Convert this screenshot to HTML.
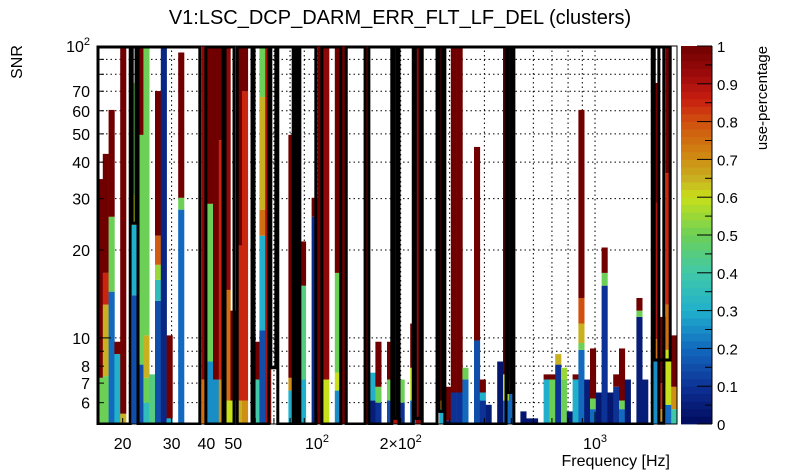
<!DOCTYPE html>
<html><head><meta charset="utf-8"><style>
body{margin:0;background:#fff;}
svg{display:block;font-family:"Liberation Sans",Arial,sans-serif;}
</style></head><body>
<svg id="chart" width="805" height="472" viewBox="0 0 805 472" xmlns="http://www.w3.org/2000/svg">
<rect width="805" height="472" fill="#fff"/>
<text x="400" y="24" font-size="20" text-anchor="middle">V1:LSC_DCP_DARM_ERR_FLT_LF_DEL (clusters)</text>
<text transform="translate(22,62) rotate(-90)" font-size="16" text-anchor="middle">SNR</text>
<text x="670" y="466" font-size="16" text-anchor="end">Frequency [Hz]</text>
<text transform="translate(767,98) rotate(-90)" font-size="15" text-anchor="middle">use-percentage</text>
<g id="grid"></g>
<g id="tiles"></g>
<g id="outlines"></g>
<g id="axes"></g>
<g id="cbar"></g>
</svg>
<script>
// ---- data ----
const fMin = 16.17, fMax = 1972, snrMin = 5.07, snrMax = 100, nBins = 100;
const colBin = [0,1,2,3,4,6,7,8,9,10,11,12,14,18,19,20,21,22,23,24,25,27,28,29,33,34,35,37,38,39,41,42,46,47,48,50,51,52,54,55,59,60,61,62,63,65,66,67,69,70,71,73,74,75,77,78,79,80,81,82,83,84,85,86,87,88,89,90,91,93,94,96,97,98,99];
const colTops = [[7.3,35],[7.4,13,16.7,42.7],[14.4,26,60.4],[8.8,9.7],[5.5,100],[14,24.4,30.9,74.7],[8.1,49.6,100],[6,7.3,10.2,100],[7.5],[13.4,15.8,17.8,22.4,70.1],[100],[5.3,10.2],[27.5,30.2,95],[7.2,100],[8.3,28.8,100],[7.2,100],[7.2,47.6,100],[6.1,14.6,100],[6.1,12.4],[6.1,20.7,100],[6.1,70,100],[7.2,9.7],[10.6,22.4,27.5,66.9,100],[100],[6.6,7.3,49.6],[100],[7.2,15.1,21.4],[26,30.2],[100],[7.2,100],[6.6,7.6,16.7,100],[100],[100],[6.1,7.6],[6,6.8,9.7],[6.1,7.2,9.7],[100],[6,7.2],[6.1,7.9,11.2],[100],[5.7,6.1,100],[5.2,6.8],[6.5,100],[6.5,100],[7.2,7.9],[9.8,45.1],[6.1,6.5,7.2],[5.9],[8.3],[6.1,7.5,100],[7.2,100],[5.6],[5.3],[5.3],[7.2,7.5],[7.2,7.5],[8.1,8.8],[7.2,7.9],[5.6],[7.2,7.5],[9.1,9.6,11.2,13.7,60.4],[7.2],[5.7,6.2,9.2],[6.5],[15.1,16.7,20.4],[6.5],[6.8,7.5],[5.7,6.1,9.2],[7.2],[11.8,12.4,13.7],[7.2],[8.3,9.9,29,74.7],[5.7,7,11.8],[5.9,9.1,13,36.7,100],[5.7,6.8,10.2]];
const colVals = [[0.5,1],[0.5,0.65,0.85,1],[0.2,0.5,1],[0.3,1],[0.65,1],[0.15,0.3,0.6,0.5],[0.15,0.5,1],[0.35,0.5,0.65,0.5],[0.45],[0.15,0.35,0.55,0.78,1],[0.07],[0.3,1],[0.2,0.5,1],[0.75,0.95],[0.25,0.5,1],[0.25,1],[0.7,0.85,1],[0.6,0.75,0.95],[0.6,1],[0.65,0.85,1],[0.7,0.85,1],[0.4,1],[0.15,0.3,0.75,0.65,0.5],[0.9],[0.3,0.7,1],[0.95],[0.3,0.45,1],[0.08,1],[1],[0.6,0.95],[0.25,0.6,0.5,1],[1],[0.95],[0.05,0.3],[0.1,0.5,1],[0.15,0.5,1],[0.9],[0.1,0.5],[0.2,0.6,1],[0.95],[0.3,0.7,1],[0.05,1],[0.1,1],[0.1,1],[0.2,0.5],[0.15,1],[0.1,0.3,1],[0.05],[0.03],[0.2,0.6,1],[0.2,1],[0.03],[0.03],[0.03],[0.3,1],[0.5,1],[0.1,0.65],[0.5,0.55],[0.03],[0.3,1],[0.2,0.5,0.65,0.8,1],[0.05],[0.2,0.5,1],[0.03],[0.1,0.5,1],[0.03],[0.1,1],[0.2,0.5,1],[0.03],[0.05,0.5,1],[0.05],[0.25,0.75,0.9,1],[0.7,0.85,1],[0.2,0.6,0.75,0.85,1],[0.4,0.7,1]];
const boxStart = [0,5.9,6.9,18.6,21.9,24,26.9,29.8,31,34,34.8,38.6,42.8,46.7,51,51.9,54.7,55.9,58.8,59.8,70.7,71.7,95.9,96.7];
const boxEnd   = [5.9,6.9,17.9,21.9,23.8,26.9,29.8,31,34,34.8,37.9,42.2,46.4,51,51.9,54.7,55.9,58.8,59.8,70.7,71.6,95.9,99.0,97.9];
const boxBottom= [5,24.7,5,5,5,5,5,7.9,5,5,5,5,5,5,5.3,5,5.3,5,5.6,5,6.5,5,8.4,5.1];
const xGridVals = [20,30,40,50,60,70,80,90,100,200,300,400,500,600,700,800,900,1000];
const xTickLabels = ["20","30","40","50","","","","","10²","2×10²","","","","","","","","10³"];
const yGridVals = [6,7,8,9,10,20,30,40,50,60,70,80,90,100];
const yTickLabels = ["6","7","8","","10","20","30","40","50","60","70","","","10²"];
const cbarVals = [0,0.1,0.2,0.3,0.4,0.5,0.6,0.7,0.8,0.9,1];
const cbarLabels = ["0","0.1","0.2","0.3","0.4","0.5","0.6","0.7","0.8","0.9","1"];
// ---- layout ----
const X0=97, X1=677, Y0=46, Y1=424;
const NS="http://www.w3.org/2000/svg";
function xF(f){return X0+(X1-X0)*Math.log(f/fMin)/Math.log(fMax/fMin);}
function binF(k){return fMin*Math.pow(fMax/fMin,k/nBins);}
function xB(k){return xF(binF(k));}
function yS(s){s=Math.max(snrMin,Math.min(snrMax,s));return Y1-(Y1-Y0)*Math.log(s/snrMin)/Math.log(snrMax/snrMin);}
const stops=[[0,[0,10,92]],[0.1,[13,50,150]],[0.2,[18,105,190]],[0.3,[32,176,204]],[0.4,[64,200,168]],[0.5,[108,208,87]],[0.6,[200,224,26]],[0.65,[200,176,32]],[0.72,[208,130,16]],[0.8,[208,80,16]],[0.86,[200,30,16]],[0.92,[160,12,12]],[1,[112,0,0]]];
function col(v){for(let i=1;i<stops.length;i++){if(v<=stops[i][0]){const a=stops[i-1],b=stops[i],t=(v-a[0])/(b[0]-a[0]);const c=a[1].map((q,j)=>Math.round(q+(b[1][j]-q)*t));return `rgb(${c})`;}}return 'rgb(112,0,0)';}
function mk(tag,attrs,parent){const e=document.createElementNS(NS,tag);for(const k in attrs)e.setAttribute(k,attrs[k]);parent.appendChild(e);return e;}
const gGrid=document.getElementById('grid'),gT=document.getElementById('tiles'),gO=document.getElementById('outlines'),gA=document.getElementById('axes'),gC=document.getElementById('cbar');
// grid
xGridVals.forEach(f=>{const l=mk('line',{x1:xF(f),x2:xF(f),y1:Y0,y2:Y1,stroke:'#000','stroke-width':1,'stroke-dasharray':'1.5,3'},gGrid);

});
yGridVals.forEach(s=>{const l=mk('line',{x1:X0,x2:X1,y1:yS(s),y2:yS(s),stroke:'#000','stroke-width':1,'stroke-dasharray':'1.5,3'},gGrid);

});
// tiles
colBin.forEach((k,i)=>{let lo=snrMin;colTops[i].forEach((top,j)=>{const ya=yS(top),yb=yS(lo);const r=mk('rect',{x:xB(k),y:ya,width:xB(k+1)-xB(k)+0.3,height:Math.max(0,yb-ya),fill:col(colVals[i][j])},gT);


lo=top;});});
// outlines
boxStart.forEach((s,i)=>{const x=xB(s),w=xB(boxEnd[i])-x,yt=Y0+1,yb=yS(boxBottom[i]);const r=mk('rect',{x:x+1,y:yt,width:Math.max(1,w-2),height:yb-yt,fill:'none',stroke:'#000','stroke-width':3},gO);

});
// frame
const fr=mk('rect',{x:X0,y:Y0,width:X1-X0,height:Y1-Y0,fill:'none',stroke:'#000','stroke-width':1},gA);


const mb=mk('rect',{x:X0-2,y:Y1+1,width:X1-X0+4,height:8,fill:'#fff'},gA);


// y ticks and labels
const yMinor=[6,7,8,9,20,30,40,50,60,70,80,90];
yMinor.forEach(s=>{const l=mk('line',{x1:X0,x2:X0+7,y1:yS(s),y2:yS(s),stroke:'#000'},gA);

});
[10,100].forEach(s=>{const l=mk('line',{x1:X0,x2:X0+14,y1:yS(s),y2:yS(s),stroke:'#000'},gA);

});
yGridVals.forEach((s,i)=>{if(!yTickLabels[i])return;const t=mk('text',{x:90,y:yS(s)+6,'font-size':16,'text-anchor':'end'},gA);


if(yTickLabels[i]==='10²'){t.innerHTML='10<tspan dy="-7" font-size="11">2</tspan>';}else t.textContent=yTickLabels[i];});
// x ticks and labels
xGridVals.forEach((f,i)=>{const big=(f===100||f===1000);const l=mk('line',{x1:xF(f),x2:xF(f),y1:Y1,y2:Y1-(big?12:6),stroke:'#000'},gA);


const lab=xTickLabels[i];if(!lab)return;const t=mk('text',{x:xF(f),y:449,'font-size':16,'text-anchor':'middle'},gA);


if(lab==='10²')t.innerHTML='10<tspan dy="-7" font-size="11">2</tspan>';
else if(lab==='10³')t.innerHTML='10<tspan dy="-7" font-size="11">3</tspan>';
else if(lab==='2×10²')t.innerHTML='2×10<tspan dy="-7" font-size="11">2</tspan>';
else t.textContent=lab;});
// colorbar
const CX0=681,CX1=712,nb=50;
for(let i=0;i<nb;i++){const v=(i+0.5)/nb;const y1=Y1-(Y1-Y0)*(i+1)/nb;const r=mk('rect',{x:CX0,y:y1,width:CX1-CX0,height:(Y1-Y0)/nb+0.4,fill:col(v)},gC);

}
cbarVals.forEach((v,i)=>{const y=Y1-(Y1-Y0)*v;const l=mk('line',{x1:CX1-15,x2:CX1,y1:y,y2:y,stroke:'#000'},gC);


const t=mk('text',{x:CX1+5,y:y+6,'font-size':15},gC);


t.textContent=cbarLabels[i];});
for(let v=0.05;v<1;v+=0.1){const y=Y1-(Y1-Y0)*v;const l=mk('line',{x1:CX1-7,x2:CX1,y1:y,y2:y,stroke:'#000'},gC);

}
const cl=mk('line',{x1:CX1,x2:CX1,y1:Y0,y2:Y1,stroke:'#000'},gC);


</script>
</body></html>
